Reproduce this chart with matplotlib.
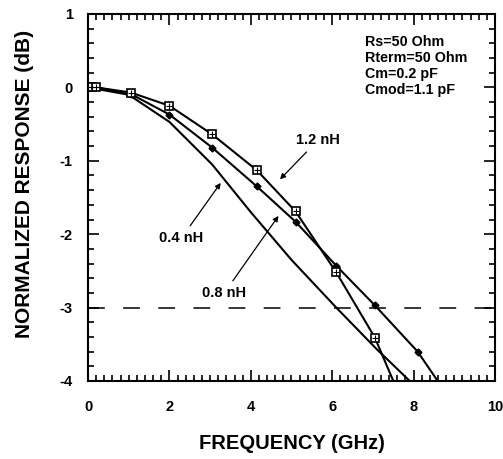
import matplotlib
matplotlib.use("Agg")
import matplotlib.pyplot as plt
from matplotlib.ticker import MultipleLocator

plt.rcParams['font.family'] = ['Liberation Sans', 'DejaVu Sans']
plt.rcParams['font.weight'] = 'bold'
plt.rcParams['axes.unicode_minus'] = False

# 1.2 nH (boxed squares)
f_12 = [0, 0.1, 0.2, 1.05, 2.0, 3.05, 4.15, 5.1, 6.1, 7.05, 8.0]
r_12 = [0, 0, 0, -0.07, -0.25, -0.64, -1.13, -1.69, -2.52, -3.41, -4.65]
# 0.8 nH (diamonds)
f_08 = [0, 0.1, 0.2, 1.05, 2.0, 3.05, 4.15, 5.1, 6.1, 7.05, 8.1, 9.0]
r_08 = [0, 0, 0, -0.09, -0.37, -0.82, -1.35, -1.83, -2.43, -2.97, -3.6, -4.33]
# 0.4 nH (no markers)
f_04 = [0, 1.0, 2.0, 3.05, 4.0, 5.0, 6.1, 7.1, 8.0]
r_04 = [0, -0.1, -0.47, -1.05, -1.7, -2.35, -3.0, -3.57, -4.05]

params = ['Rs=50 Ohm', 'Rterm=50 Ohm', 'Cm=0.2 pF', 'Cmod=1.1 pF']

fig = plt.figure(figsize=(5.03, 4.59), dpi=100)
ax = fig.add_axes([0.175, 0.170, 0.809, 0.7995])

ax.plot(f_04, r_04, color='k', lw=1.5)
ax.plot(f_08, r_08, color='k', lw=1.5, marker='D', ms=3.5, mfc='k')
ax.plot(f_12, r_12, color='k', lw=1.5, marker='s', ms=5.5, mfc='white', mew=1.2)
ax.plot(f_12, r_12, ls='none', color='k', marker='+', ms=5, mew=0.8)

ax.axhline(-3, color='k', lw=1.1, dashes=(11, 12))

ax.set_xlim(0, 10)
ax.set_ylim(-4, 1)
ax.xaxis.set_major_locator(MultipleLocator(2))
ax.xaxis.set_minor_locator(MultipleLocator(0.2))
ax.yaxis.set_major_locator(MultipleLocator(1))
ax.yaxis.set_minor_locator(MultipleLocator(0.2))
ax.tick_params(which='both', direction='in', top=True, right=True, width=1.2)
ax.tick_params(which='major', length=8, labelsize=10.5)
ax.tick_params(axis='x', which='major', pad=14)
ax.tick_params(axis='y', which='major', pad=11)
ax.tick_params(which='minor', length=4)
for s in ax.spines.values():
    s.set_linewidth(1.5)

ax.set_xlabel('FREQUENCY (GHz)', fontsize=14.5, fontweight='bold', labelpad=14)
ax.set_ylabel('NORMALIZED RESPONSE (dB)', fontsize=15, fontweight='bold')
ax.yaxis.set_label_coords(-0.132, 0.537)

for i, t in enumerate(params):
    ax.text(6.8, 0.62 - i * 0.22, t, fontsize=10.3, ha='left', va='center')

arr = dict(arrowstyle='-|>', color='k', lw=0.9, mutation_scale=8)
ax.annotate('1.2 nH', xy=(4.67, -1.28), xytext=(5.65, -0.72),
            ha='center', va='center', fontsize=10.5, arrowprops=arr)
ax.annotate('0.4 nH', xy=(3.3, -1.27), xytext=(2.3, -2.05),
            ha='center', va='center', fontsize=10.5, arrowprops=arr)
ax.annotate('0.8 nH', xy=(4.72, -1.72), xytext=(3.35, -2.8),
            ha='center', va='center', fontsize=10.5, arrowprops=arr)

fig.savefig('out.png', dpi=100)
